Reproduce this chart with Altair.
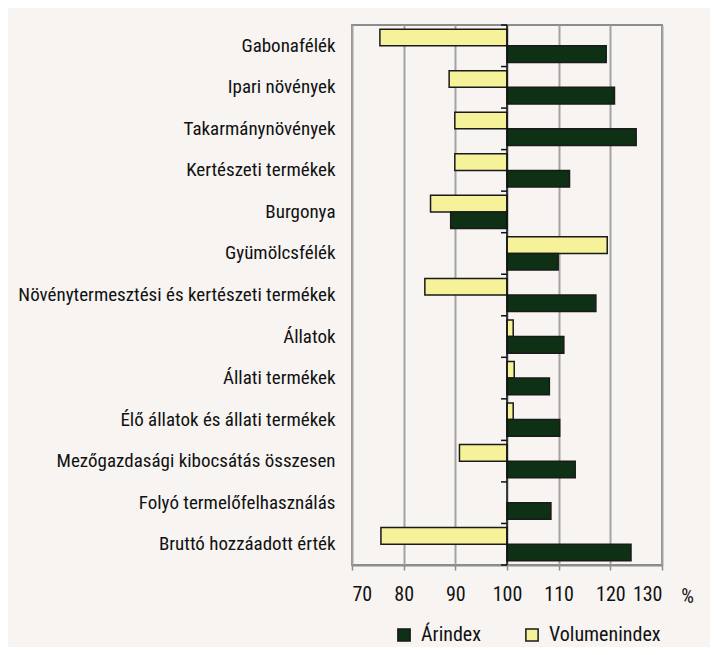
import altair as alt
import pandas as pd

categories = [
    "Gabonafélék",
    "Ipari növények",
    "Takarmánynövények",
    "Kertészeti termékek",
    "Burgonya",
    "Gyümölcsfélék",
    "Növénytermesztési és kertészeti termékek",
    "Állatok",
    "Állati termékek",
    "Élő állatok és állati termékek",
    "Mezőgazdasági kibocsátás összesen",
    "Folyó termelőfelhasználás",
    "Bruttó hozzáadott érték",
]
arindex = [119.2, 120.8, 125.0, 112.1, 89.1, 109.9, 117.2, 111.0, 108.2, 110.2, 113.2, 108.5, 124.0]
volumenindex = [75.4, 88.8, 89.9, 89.9, 85.2, 119.4, 84.1, 101.2, 101.4, 101.2, 90.8, None, 75.6]
series = ["Árindex", "Volumenindex"]
colors = ["#0e3014", "#f6f29a"]
x_ticks = [70, 80, 90, 100, 110, 120, 130]

rows = []
for c, a, v in zip(categories, arindex, volumenindex):
    rows.append({"cat": c, "series": "Volumenindex", "value": v})
    rows.append({"cat": c, "series": "Árindex", "value": a})
df = pd.DataFrame(rows)
df = df.dropna()

FONT = "'Roboto Condensed', 'Liberation Sans Narrow', 'DejaVu Sans Condensed', sans-serif"

ysc = alt.Scale(domain=categories, paddingInner=0, paddingOuter=0)

xenc = alt.X(
    "value:Q",
    scale=alt.Scale(domain=[70, 130], nice=False, zero=False),
    axis=alt.Axis(
        values=x_ticks,
        title="%",
        titleAngle=0,
        titleX=335,
        titleY=31,
        titleAlign="center",
        titleBaseline="middle",
        titleFontWeight="normal",
        titleFontSize=20,
        titleFont=FONT,
        titleColor="#111111",
        grid=True,
        gridColor="#a3a3a3",
        gridWidth=2,
        domainColor="#8c8c8c",
        domainWidth=2,
        tickColor="#8c8c8c",
        tickWidth=1.5,
        tickSize=5,
        labelPadding=14,
        labelFontSize=20,
        labelFont=FONT,
        labelColor="#111111",
    ),
)

bars = alt.Chart(df).mark_bar(stroke="#1a1a1a", strokeWidth=1.5).encode(
    x=xenc,
    x2=alt.datum(100),
    y=alt.Y(
        "cat:N",
        scale=ysc,
        sort=categories,
        axis=alt.Axis(
            title=None,
            ticks=False,
            domain=False,
            grid=False,
            labelPadding=17,
            labelFontSize=19,
            labelFont=FONT,
            labelColor="#111111",
            labelLimit=400,
        ),
    ),
    yOffset=alt.YOffset(
        "series:N",
        sort=["Volumenindex", "Árindex"],
        scale=alt.Scale(domain=["Volumenindex", "Árindex"], paddingInner=0, paddingOuter=0.25),
    ),
    color=alt.Color(
        "series:N",
        scale=alt.Scale(domain=series, range=colors),
        legend=alt.Legend(
            title=None,
            orient="none",
            legendX=42,
            legendY=600,
            direction="horizontal",
            columns=2,
            columnPadding=41,
            padding=0,
            symbolType="square",
            symbolSize=150,
            symbolStrokeColor="#1a1a1a",
            symbolStrokeWidth=1.5,
            symbolOpacity=1,
            labelOffset=7,
            labelFontSize=20,
            labelFont=FONT,
            labelColor="#111111",
        ),
    ),
)

center_line = alt.Chart(pd.DataFrame({"v": [100]})).mark_rule(
    color="#111111", strokeWidth=1.5
).encode(x=alt.X("v:Q", scale=alt.Scale(domain=[70, 130], nice=False, zero=False)))

tick_df = pd.DataFrame({"cat": categories})
cat_ticks = alt.Chart(tick_df).mark_rule(color="#111111", strokeWidth=1.5).encode(
    y=alt.Y("cat:N", scale=ysc, sort=categories, bandPosition=0),
    x=alt.datum(98.85),
    x2=alt.datum(100),
)
last_tick = alt.Chart(pd.DataFrame({"cat": [categories[-1]]})).mark_rule(
    color="#111111", strokeWidth=1.5
).encode(
    y=alt.Y("cat:N", scale=ysc, sort=categories, bandPosition=1),
    x=alt.datum(98.85),
    x2=alt.datum(100),
)

chart = (
    alt.layer(bars, center_line, cat_ticks, last_tick)
    .properties(
        width=310,
        height=540,
        background="#f7f4f1",
        padding={"left": 344, "top": 17, "right": 48, "bottom": 82},
        autosize=alt.AutoSizeParams(type="none"),
    )
    .configure_view(stroke="#8c8c8c", strokeWidth=2, fill="#f7f4f1")
)

chart.save("out.html", embed_options={"renderer": "svg", "actions": False})
